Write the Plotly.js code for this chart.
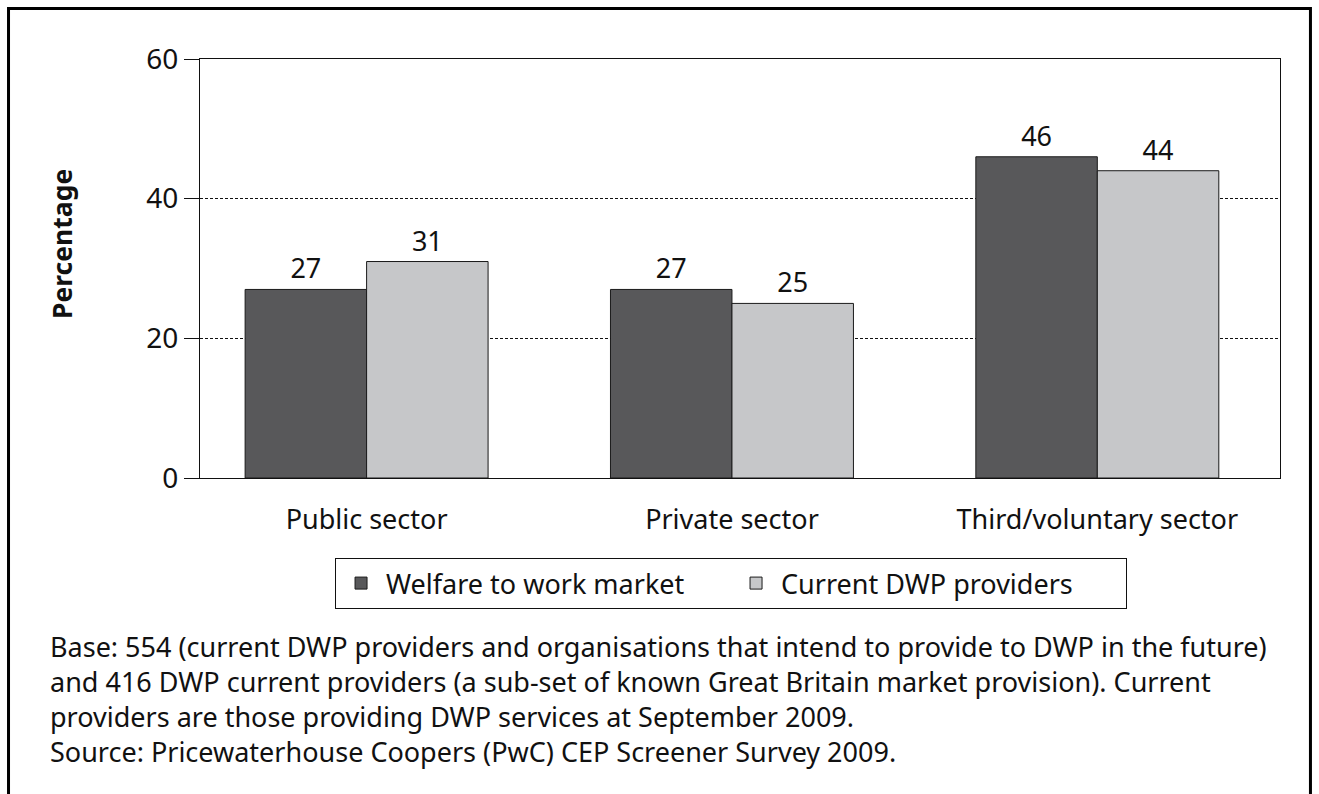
<!DOCTYPE html>
<html>
<head>
<meta charset="utf-8">
<script src="https://cdn.plot.ly/plotly-3.0.1.min.js"></script>
<style>html,body{margin:0;padding:0;background:#fff;}#chart{width:1319px;height:794px;}</style>
</head>
<body>
<div id="chart"></div>
<script>
const categories = ['Public sector', 'Private sector', 'Third/voluntary sector'];
const welfareToWork = [27, 27, 46];
const currentDWP = [31, 25, 44];
const seriesNames = ['Welfare to work market', 'Current DWP providers'];
const yTicks = [0, 20, 40, 60];
const yTitle = 'Percentage';
const footnoteLines = [
  'Base: 554 (current DWP providers and organisations that intend to provide to DWP in the future)',
  'and 416 DWP current providers (a sub-set of known Great Britain market provision). Current',
  'providers are those providing DWP services at September 2009.',
  'Source: Pricewaterhouse Coopers (PwC) CEP Screener Survey 2009.'
];

const FONT = 'Noto Sans, Open Sans, sans-serif';
const INK = '#111';

function barTrace(name, values, color) {
  return {
    type: 'bar', name: name, x: categories, y: values,
    marker: {color: color, line: {color: '#1a1a1a', width: 1}},
    text: values.map(String), textposition: 'outside', cliponaxis: false,
    textfont: {family: FONT, size: 27, color: INK},
    hoverinfo: 'skip'
  };
}

const data = [
  barTrace(seriesNames[0], welfareToWork, '#58585a'),
  barTrace(seriesNames[1], currentDWP, '#c6c7c9')
];

const annotations = [{
  text: footnoteLines.join('<br>'), xref: 'paper', yref: 'paper',
  x: -0.1407, y: (478 - 699) / 419,
  xanchor: 'left', yanchor: 'middle', showarrow: false, align: 'left',
  font: {family: FONT, size: 27, color: INK}
}, {
  text: '<b>' + yTitle + '</b>', xref: 'paper', yref: 'paper',
  x: (62 - 200) / 1080, y: (478 - 244) / 419, xanchor: 'center', yanchor: 'middle',
  textangle: -90, showarrow: false, font: {family: FONT, size: 26.5, color: INK}
}];

const layout = {
  width: 1319, height: 794,
  margin: {l: 200, r: 39, t: 59, b: 316},
  paper_bgcolor: '#fff', plot_bgcolor: '#fff',
  barmode: 'group', bargap: 0.335, bargroupgap: 0,
  showlegend: true,
  legend: {
    orientation: 'h', x: 0.4917, xanchor: 'center', y: -0.191, yanchor: 'top',
    bordercolor: INK, borderwidth: 1, bgcolor: '#fff',
    font: {family: FONT, size: 27, color: INK},
    itemwidth: 40, entrywidth: 340, entrywidthmode: 'pixels', traceorder: 'normal'
  },
  xaxis: {
    type: 'category', range: [-0.456, 2.5],
    showline: true, linecolor: INK, linewidth: 1, mirror: true,
    ticks: '', showgrid: false, ticklabelstandoff: 18,
    tickfont: {family: FONT, size: 27, color: INK}
  },
  yaxis: {
    range: [0, 60], tickvals: yTicks, ticktext: yTicks.map(String),
    showline: true, linecolor: INK, linewidth: 1, mirror: true,
    ticks: 'outside', ticklen: 15, tickcolor: INK, tickwidth: 1,
    showgrid: true, gridcolor: INK, gridwidth: 1, griddash: '3px,2px',
    zeroline: false,
    tickfont: {family: FONT, size: 28, color: INK}
  },
  annotations: annotations,
  shapes: [{
    type: 'rect', xref: 'paper', yref: 'paper',
    x0: -0.1773, x1: 1.0282, y0: -0.77, y1: 1.1205,
    line: {color: '#000', width: 3}, fillcolor: 'rgba(0,0,0,0)', layer: 'above'
  }]
};

Plotly.newPlot('chart', data, layout, {staticPlot: true, displayModeBar: false});
</script>
</body>
</html>
